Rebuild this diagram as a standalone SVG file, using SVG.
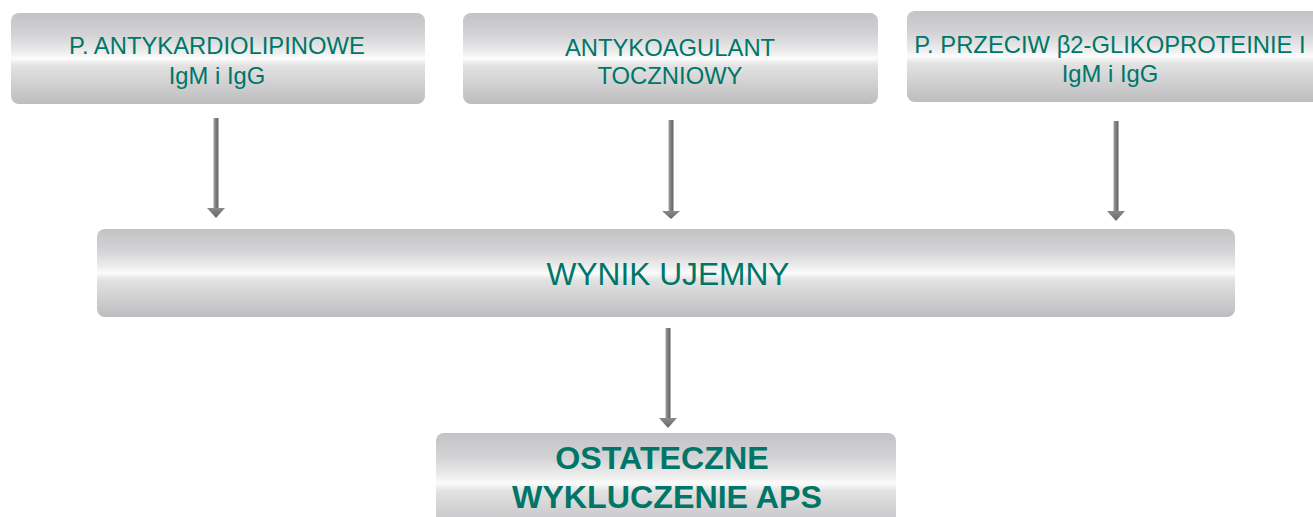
<svg xmlns="http://www.w3.org/2000/svg" width="1313" height="517" viewBox="0 0 1313 517">
<defs>
<linearGradient id="boxg" x1="0" y1="0" x2="0" y2="1">
<stop offset="0" stop-color="#c3c3c5"/>
<stop offset="0.25" stop-color="#d4d4d6"/>
<stop offset="0.44" stop-color="#efeff0"/>
<stop offset="0.5" stop-color="#fcfcfc"/>
<stop offset="0.58" stop-color="#e2e2e3"/>
<stop offset="1" stop-color="#bdbdbf"/>
</linearGradient>
<linearGradient id="shaftg" x1="0" y1="0" x2="1" y2="0">
<stop offset="0" stop-color="#a2a2a4"/>
<stop offset="0.5" stop-color="#7c7c7e"/>
<stop offset="1" stop-color="#636365"/>
</linearGradient>
<linearGradient id="headg" x1="0" y1="0" x2="0" y2="1">
<stop offset="0" stop-color="#8a8a8c"/>
<stop offset="1" stop-color="#666668"/>
</linearGradient>
</defs>
<style>
.box{fill:url(#boxg);}
.t{font-family:"Liberation Sans",Arial,sans-serif;fill:#007668;text-anchor:middle;}
.s{font-size:23.8px;}
.m{font-size:31.7px;}
.b{font-size:32.2px;font-weight:bold;}
.shaft{fill:url(#shaftg);}
.head{fill:url(#headg);}
</style>
<rect width="1313" height="517" fill="#ffffff"/>
<g id="connectors">
<g id="arrow1"><rect class="shaft" x="213.5" y="118" width="5" height="91"/><polygon class="head" points="207,208 225,208 216,218"/></g>
<g id="arrow2"><rect class="shaft" x="668.5" y="120" width="5" height="92"/><polygon class="head" points="662,211 680,211 671,219"/></g>
<g id="arrow3"><rect class="shaft" x="1113.5" y="121" width="5" height="91"/><polygon class="head" points="1107,211 1125,211 1116,221"/></g>
<g id="arrow4"><rect class="shaft" x="665.5" y="328" width="5" height="91"/><polygon class="head" points="659,418 677,418 668,428"/></g>
</g>
<g id="node-antykardiolipinowe">
<rect class="box" x="11" y="13" width="414" height="91" rx="8"/>
<text class="t s" x="217" y="54">P. ANTYKARDIOLIPINOWE</text>
<text class="t s" x="217" y="84">IgM i IgG</text>
</g>
<g id="node-antykoagulant">
<rect class="box" x="463" y="13" width="415" height="91" rx="8"/>
<text class="t s" x="670" y="56">ANTYKOAGULANT</text>
<text class="t s" x="670" y="84">TOCZNIOWY</text>
</g>
<g id="node-b2gp">
<rect class="box" x="907" y="11" width="420" height="91" rx="8"/>
<text class="t s" x="1110" y="53">P. PRZECIW β2-GLIKOPROTEINIE I</text>
<text class="t s" x="1110" y="82">IgM i IgG</text>
</g>
<g id="node-wynik">
<rect class="box" x="97" y="229" width="1138" height="88" rx="8"/>
<text class="t m" x="668" y="285">WYNIK UJEMNY</text>
</g>
<g id="node-wykluczenie">
<rect class="box" x="436" y="433" width="460" height="100" rx="8"/>
<text class="t b" x="662" y="469">OSTATECZNE</text>
<text class="t b" x="667" y="508">WYKLUCZENIE APS</text>
</g>
</svg>
